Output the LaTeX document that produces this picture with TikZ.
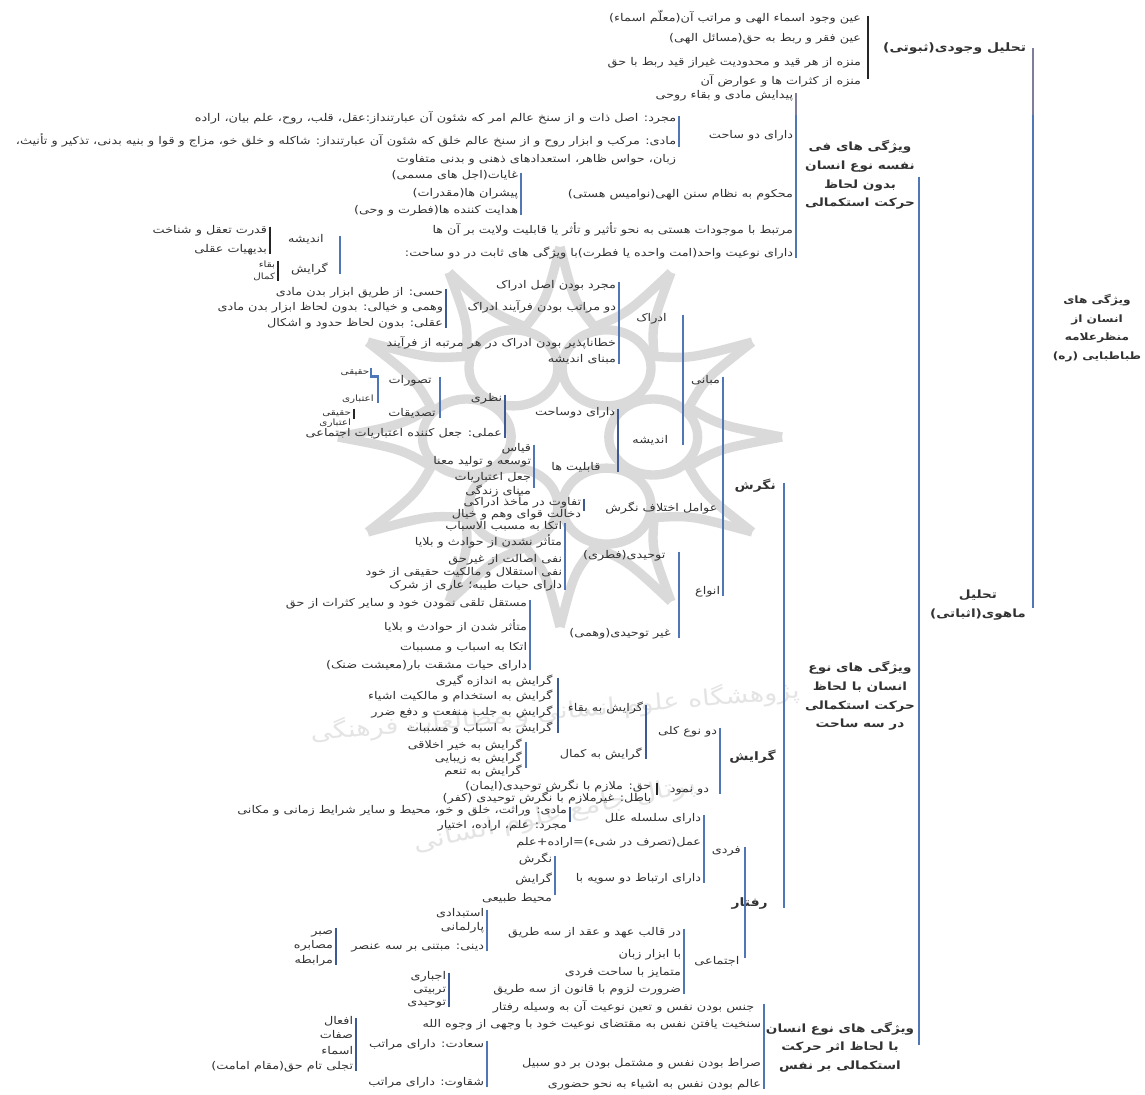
\documentclass[tikz,border=0pt]{standalone}
\usepackage{fontspec}
\newfontfamily\fafont[Script=Arabic, FakeStretch=1.2]{DejaVu Sans}
\TeXXeTstate=1
\newcommand{\fa}[1]{\beginR #1\endR}
\definecolor{barblue}{HTML}{4F77B8}
\definecolor{bardark}{HTML}{3D5A94}
\definecolor{barfade}{HTML}{7D7D9E}
\definecolor{txt}{HTML}{333333}
\definecolor{sealgray}{HTML}{DADADA}
\definecolor{sealtext}{HTML}{E4E4E4}
\tikzset{
  lbl/.style={anchor=east, inner ysep=0pt, inner xsep=#1, text=txt, text height=4.5pt, text depth=1.5pt,
    font=\fafont\fontsize{8}{8}\selectfont},
  lbl/.default=2pt,
  lbls/.style={lbl=#1, font=\fafont\fontsize{6.5}{8}\selectfont},
  lbls/.default=2pt,
  lblb/.style={lbl=#1, font=\fafont\bfseries\fontsize{8.7}{8}\selectfont},
  lblb/.default=2pt,
  head/.style={text=txt, align=center, inner sep=0pt, font=\fafont\bfseries\fontsize{8.5}{14}\selectfont},
  bar/.style={line width=2.1pt, barblue},
  bardk/.style={line width=2.1pt, bardark},
  barbk/.style={line width=2.1pt, black!85},
}
\begin{document}
\begin{tikzpicture}[x=0.75pt, y=-0.75pt]
\useasboundingbox (0,0) rectangle (1145,1095);
% emblem behind the text
\begin{scope}[shift={(560,437)}, xscale=222, yscale=190, sealgray, line width=7pt]
  \foreach \a in {0,30,...,330} {
    \draw (\a:1) .. controls (\a+5:0.72) .. (\a+15:0.6) .. controls (\a+25:0.72) .. (\a+30:1);
  }
  \foreach \a in {0,60,...,300} {
    \draw (\a:0.42) circle [x radius=0.2, y radius=0.2];
  }
\end{scope}
\node[rotate=5, text=sealtext, inner sep=0pt, font=\fafont\fontsize{17}{24}\selectfont] (seal1) at (555,712) {\fa{پژوهشگاه علوم انسانی و مطالعات فرهنگی}};
\node[rotate=12, text=sealtext, inner sep=0pt, font=\fafont\fontsize{18}{24}\selectfont] (seal2) at (555,815) {\fa{پرتال جامع علوم انسانی}};

% root
\node[head, font=\fafont\bfseries\fontsize{7.6}{14}\selectfont] (root) at (1097,328) {\fa{ویژگی های}\\\fa{انسان از}\\\fa{منظرعلامه}\\\fa{طباطبایی (ره)}};
\coordinate (rootA) at (1033,48);
\coordinate (rootM) at (1033,115);
\coordinate (rootB) at (1033,608);
\draw[bar] (rootM) -- (rootB);
\draw[bar, barfade] (rootA) -- (rootM);
\node[lblb=5pt] (sub) at (1033,50) {\fa{تحلیل وجودی(ثبوتی)}};
\node[head] (mah) at (978,605) {\fa{تحلیل}\\\fa{ماهوی(اثباتی)}};

% ثبوتی
\node[lbl=5pt] (sb1) at (868,20) {\fa{عین وجود اسماء الهی و مراتب آن(معلّم اسماء)}};
\node[lbl=5pt] (sb2) at (868,40) {\fa{عین فقر و ربط به حق(مسائل الهی)}};
\node[lbl=5pt] (sb3) at (868,64) {\fa{منزه از هر قید و محدودیت غیراز قید ربط با حق}};
\node[lbl=5pt] (sb4) at (868,83) {\fa{منزه از کثرات ها و عوارض آن}};
\draw[barbk] (sb1.north east) -- (sb4.north east);

% سه دسته
\coordinate (mahA) at (919,177);
\coordinate (mahB) at (919,1045);
\draw[bar] (mahA) -- (mahB);
\node[head] (typeA) at (860,175) {\fa{ویژگی های فی}\\\fa{نفسه نوع انسان}\\\fa{بدون لحاظ}\\\fa{حرکت استکمالی}};
\node[head] (typeB) at (860,696) {\fa{ویژگی های نوع}\\\fa{انسان با لحاظ}\\\fa{حرکت استکمالی}\\\fa{در سه ساحت}};
\node[head] (typeC) at (840,1047) {\fa{ویژگی های نوع انسان}\\\fa{با لحاظ اثر حرکت}\\\fa{استکمالی بر نفس}};

% فی نفسه
\coordinate (fnM) at (796,115);
\node[lbl] (fn1) at (796,97) {\fa{پیدایش مادی و بقاء روحی}};
\node[lbl] (fn2) at (796,137) {\fa{دارای دو ساحت}};
\node[lbl] (fn3) at (796,195) {\fa{محکوم به نظام سنن الهی(نوامیس هستی)}};
\node[lbl] (fn4) at (796,231) {\fa{مرتبط با موجودات هستی به نحو تأثیر و تأثر یا قابلیت ولایت بر آن ها}};
\node[lbl] (fn5) at (796,254) {\fa{دارای نوعیت واحد(امت واحده یا فطرت)با ویژگی های ثابت در دو ساحت:}};
\draw[bar] (fnM) -- (fn5.south east);
\draw[bar, barfade] (fn1.north east) -- (fnM);
\node[lbl] (sa1) at (679,120) {\fa{مجرد: اصل ذات و از سنخ عالم امر که شئون آن عبارتنداز:عقل، قلب، روح، علم بیان، اراده}};
\node[lbl] (sa2) at (679,143) {\fa{مادی: مرکب و ابزار روح و از سنخ عالم خلق که شئون آن عبارتنداز: شاکله و خلق خو، مزاج و قوا و بنیه بدنی، تذکیر و تأنیث،}};
\node[lbl] (sa3) at (679,160) {\fa{زبان، حواس ظاهر، استعدادهای ذهنی و بدنی متفاوت}};
\draw[bar] (sa1.north east) -- (sa2.south east);
\node[lbl] (sn1) at (521,177) {\fa{غایات(اجل های مسمی)}};
\node[lbl] (sn2) at (521,194) {\fa{پیشران ها(مقدرات)}};
\node[lbl] (sn3) at (521,211) {\fa{هدایت کننده ها(فطرت و وحی)}};
\draw[bar] (sn1.north east) -- (sn3.south east);
\node[lbl=12pt] (ab1) at (340,240) {\fa{اندیشه}};
\node[lbl=9pt] (ab2) at (340,270) {\fa{گرایش}};
\draw[bar] (ab1.north east) -- (ab2.south east);
\node[lbl] (ab3) at (270,231) {\fa{قدرت تعقل و شناخت}};
\node[lbl] (ab4) at (270,250) {\fa{بدیهیات عقلی}};
\draw[barbk] (ab3.north east) -- (ab4.south east);
\node[lbls] (ab5) at (278,265) {\fa{بقاء}};
\node[lbls] (ab6) at (278,277) {\fa{کمال}};
\draw[barbk, line width=1pt] (ab5.north east) -- (ab6.south east);

% نوع، سه ساحت
\node[lblb=6pt] (ng) at (784,487) {\fa{نگرش}};
\node[lblb=6pt] (gr) at (784,758) {\fa{گرایش}};
\node[lblb=12pt] (rf) at (784,904) {\fa{رفتار}};
\draw[bar] (ng.north east) -- (rf.south east);

% نگرش
\node[lbl] (mb) at (723,381) {\fa{مبانی}};
\node[lbl=4pt] (ow) at (723,509) {\fa{عوامل اختلاف نگرش}};
\node[lbl] (an) at (723,592) {\fa{انواع}};
\draw[bar] (mb.north east) -- (an.south east);
\node[lbl=12pt] (ed) at (683,319) {\fa{ادراک}};
\node[lbl=11pt] (an2) at (683,441) {\fa{اندیشه}};
\draw[bar] (ed.north east) -- (an2.south east);
\node[lbl] (ed1) at (619,286) {\fa{مجرد بودن اصل ادراک}};
\node[lbl] (ed2) at (619,308) {\fa{دو مراتب بودن فرآیند ادراک}};
\node[lbl] (ed3) at (619,344) {\fa{خطاناپذیر بودن ادراک  در هر مرتبه از فرآیند}};
\node[lbl] (ed4) at (619,360) {\fa{مبنای اندیشه}};
\draw[bar] (ed1.north east) -- (ed4.south east);
\node[lbl] (hs1) at (446,293) {\fa{حسی: از طریق ابزار بدن مادی}};
\node[lbl] (hs2) at (446,308) {\fa{وهمی و خیالی: بدون لحاظ ابزار بدن مادی}};
\node[lbl] (hs3) at (446,324) {\fa{عقلی: بدون لحاظ حدود و اشکال}};
\draw[bardk] (hs1.north east) -- (hs3.south east);
\node[lbl] (ds) at (618,413) {\fa{دارای دوساحت}};
\node[lbl=13pt] (qb) at (618,468) {\fa{قابلیت ها}};
\draw[bardk] (ds.north east) -- (qb.south east);
\node[lbl] (nz) at (505,399) {\fa{نظری}};
\node[lbl] (am) at (505,434) {\fa{عملی: جعل کننده اعتباریات اجتماعی}};
\draw[bardk] (nz.north east) -- (am.south east);
\node[lbl=6pt] (ts) at (440,381) {\fa{تصورات}};
\node[lbl=3pt] (td) at (440,414) {\fa{تصدیقات}};
\draw[bar] (ts.north east) -- (td.south east);
\node[lbls=1pt] (ts1) at (371,372) {\fa{حقیقی}};
\node[lbls=3pt] (ts2) at (378,399) {\fa{اعتباری}};
\draw[bar] (ts1.north east) -- (ts1.south east) -- (ts2.north east |- ts1.south east) -- (ts2.south east);
\node[lbls] (td1) at (354,413) {\fa{حقیقی}};
\node[lbls] (td2) at (354,423) {\fa{اعتباری}};
\draw[barbk, line width=1pt] (td1.north east) -- (td2.north east);
\node[lbl] (qb1) at (534,449) {\fa{قیاس}};
\node[lbl] (qb2) at (534,462) {\fa{توسعه و تولید معنا}};
\node[lbl] (qb3) at (534,478) {\fa{جعل اعتباریات}};
\node[lbl] (qb4) at (534,492) {\fa{مبنای زندگی}};
\draw[bar] (qb1.north east) -- (qb4.north east);
\node[lbl] (ow1) at (584,503) {\fa{تفاوت در مأخذ ادراکی}};
\node[lbl] (ow2) at (584,515) {\fa{دخالت قوای وهم و خیال}};
\draw[bardk] (ow1.north east) -- (ow2.north east);
\node[lbl=10pt] (tw) at (679,556) {\fa{توحیدی(فطری)}};
\node[lbl=6pt] (gt) at (679,634) {\fa{غیر توحیدی(وهمی)}};
\draw[bar] (tw.north east) -- (gt.south east);
\node[lbl] (tw1) at (565,527) {\fa{اتکا به مسبب الاسباب}};
\node[lbl] (tw2) at (565,543) {\fa{متأثر نشدن از حوادث و بلایا}};
\node[lbl] (tw3) at (565,560) {\fa{نفی اصالت از غیرحق}};
\node[lbl] (tw4) at (565,573) {\fa{نفی استقلال و مالکیت حقیقی از خود}};
\node[lbl] (tw5) at (565,586) {\fa{دارای حیات طیبه؛ عاری از شرک}};
\draw[bar] (tw1.north east) -- (tw5.south east);
\node[lbl] (gt1) at (530,604) {\fa{مستقل تلقی نمودن خود و سایر کثرات از حق}};
\node[lbl] (gt2) at (530,628) {\fa{متأثر شدن از حوادث و بلایا}};
\node[lbl] (gt3) at (530,648) {\fa{اتکا به اسباب و مسببات}};
\node[lbl] (gt4) at (530,666) {\fa{دارای حیات مشقت بار(معیشت ضنک)}};
\draw[bar] (gt1.north east) -- (gt4.south east);

% گرایش
\node[lbl] (dn) at (720,732) {\fa{دو نوع کلی}};
\node[lbl=8pt] (dm) at (720,790) {\fa{دو نمود}};
\draw[bar] (dn.north east) -- (dm.south east);
\node[lbl] (gb) at (646,709) {\fa{گرایش به بقاء}};
\node[lbl=3pt] (gk) at (646,755) {\fa{گرایش به کمال}};
\draw[bardk] (gb.north east) -- (gk.south east);
\node[lbl=4pt] (gb1) at (558,682) {\fa{گرایش به اندازه گیری}};
\node[lbl=4pt] (gb2) at (558,697) {\fa{گرایش به استخدام و مالکیت اشیاء}};
\node[lbl=4pt] (gb3) at (558,713) {\fa{گرایش به جلب منفعت و دفع ضرر}};
\node[lbl=4pt] (gb4) at (558,729) {\fa{گرایش به اسباب و مسببات}};
\draw[bardk] (gb1.north east) -- (gb4.south east);
\node[lbl=3pt] (gk1) at (526,746) {\fa{گرایش به خیر اخلاقی}};
\node[lbl=3pt] (gk2) at (526,759) {\fa{گرایش به زیبایی}};
\node[lbl=3pt] (gk3) at (526,772) {\fa{گرایش به تنعم}};
\draw[bar] (gk1.north east) -- (gk3.north east);
\node[lbl=4pt] (dm1) at (657,787) {\fa{حق: ملازم با نگرش توحیدی(ایمان)}};
\node[lbl=4pt] (dm2) at (657,799) {\fa{باطل: غیرملازم با نگرش توحیدی (کفر)}};
\draw[barbk, line width=1pt] (dm1.north east) -- (dm2.north east);

% رفتار
\node[lbl=3pt] (fd) at (745,851) {\fa{فردی}};
\node[lbl=4pt] (ej) at (745,962) {\fa{اجتماعی}};
\draw[bar] (fd.north east) -- (ej.north east);
\node[lbl] (fd1) at (704,819) {\fa{دارای سلسله علل}};
\node[lbl] (fd2) at (704,843) {\fa{عمل(تصرف در شیء)=اراده+علم}};
\node[lbl] (fd3) at (704,879) {\fa{دارای ارتباط دو سویه با}};
\draw[bar] (fd1.north east) -- (fd3.south east);
\node[lbl] (fe1) at (570,811) {\fa{مادی: وراثت، خلق و خو، محیط و سایر شرایط زمانی و مکانی}};
\node[lbl] (fe2) at (570,826) {\fa{مجرد: علم، اراده، اختیار}};
\draw[bardk] (fe1.north east) -- (fe2.north east);
\node[lbl] (fr1) at (555,860) {\fa{نگرش}};
\node[lbl] (fr2) at (555,880) {\fa{گرایش}};
\node[lbl] (fr3) at (555,899) {\fa{محیط طبیعی}};
\draw[bar] (fr1.north east) -- (fr3.north east);
\node[lbl] (ej1) at (684,933) {\fa{در قالب عهد و عقد از سه طریق}};
\node[lbl] (ej2) at (684,955) {\fa{با ابزار زبان}};
\node[lbl] (ej3) at (684,973) {\fa{متمایز با ساحت فردی}};
\node[lbl] (ej4) at (684,990) {\fa{ضرورت لزوم با قانون از سه طریق}};
\draw[bar] (ej1.north east) -- (ej4.south east);
\node[lbl] (ah1) at (487,914) {\fa{استبدادی}};
\node[lbl] (ah2) at (487,928) {\fa{پارلمانی}};
\node[lbl] (ah3) at (487,947) {\fa{دینی: مبتنی بر سه عنصر}};
\draw[bar] (ah1.north east) -- (ah3.south east);
\node[lbl] (sb5) at (336,932) {\fa{صبر}};
\node[lbl] (sb6) at (336,946) {\fa{مصابره}};
\node[lbl] (sb7) at (336,961) {\fa{مرابطه}};
\draw[bardk] (sb5.north east) -- (sb7.south east);
\node[lbl] (qn1) at (449,977) {\fa{اجباری}};
\node[lbl] (qn2) at (449,990) {\fa{تربیتی}};
\node[lbl] (qn3) at (449,1003) {\fa{توحیدی}};
\draw[bardk] (qn1.north east) -- (qn3.south east);

% اثر بر نفس
\node[lbl=7pt] (nf1) at (764,1008) {\fa{جنس بودن نفس و تعین نوعیت آن به وسیله رفتار}};
\node[lbl] (nf2) at (764,1025) {\fa{سنخیت یافتن نفس به مقتضای نوعیت خود با وجهی از وجوه الله}};
\node[lbl] (nf3) at (764,1064) {\fa{صراط بودن نفس و مشتمل بودن بر دو سبیل}};
\node[lbl] (nf4) at (764,1085) {\fa{عالم بودن نفس به اشیاء به نحو حضوری}};
\draw[bar] (nf1.north east) -- (nf4.south east);
\node[lbl] (sd) at (487,1045) {\fa{سعادت: دارای مراتب}};
\node[lbl] (sq) at (487,1083) {\fa{شقاوت: دارای مراتب}};
\draw[bar] (sd.north east) -- (sq.south east);
\node[lbl] (sd1) at (356,1022) {\fa{افعال}};
\node[lbl] (sd2) at (356,1036) {\fa{صفات}};
\node[lbl] (sd3) at (356,1052) {\fa{اسماء}};
\node[lbl] (sd4) at (356,1067) {\fa{تجلی تام حق(مقام امامت)}};
\draw[bardk] (sd1.north east) -- (sd4.south east);
\end{tikzpicture}
\end{document}
